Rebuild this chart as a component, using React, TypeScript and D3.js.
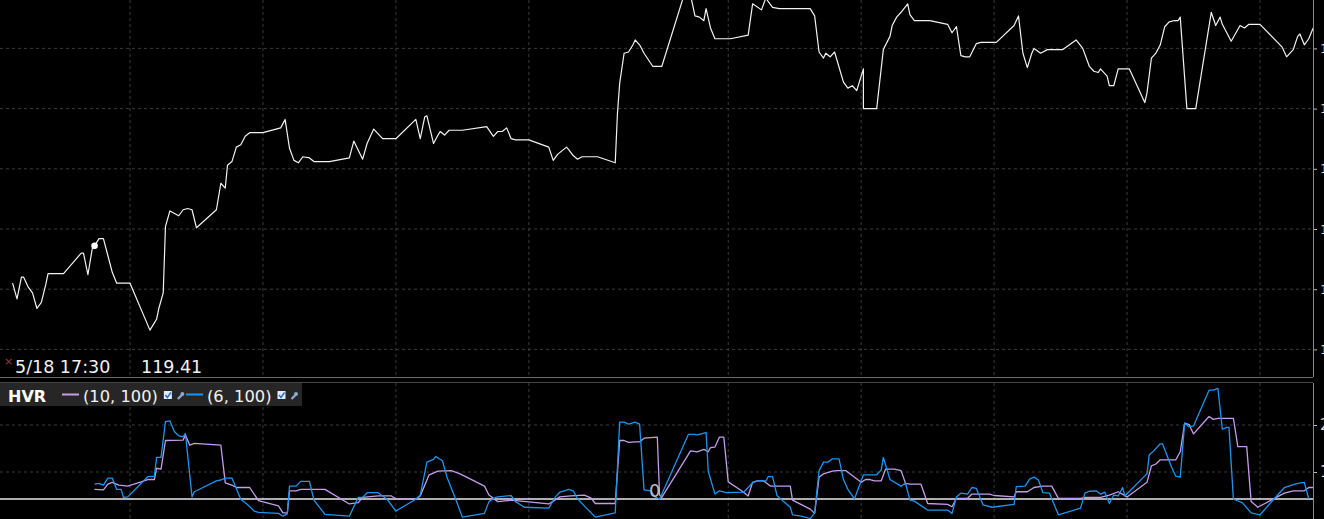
import { useEffect, useRef } from "react";
import * as d3 from "d3";

// Time axis in minutes since session start, one gridline per hour (with a 90 min gap)
const TIME_GRID = [60, 120, 180, 240, 330, 390, 450, 510, 570];

// Price (upper pane)
const PRICE_T = [
  7, 9, 11, 12, 14, 16, 18, 20, 22, 23,
  30, 38, 39, 41, 43, 44, 46, 48, 50, 52,
  54, 60, 69, 71, 72, 73, 75, 76, 78, 82,
  84, 86, 88, 90, 99, 101, 103, 104, 106, 108,
  110, 112, 114, 120, 128, 130, 132, 134, 136, 138,
  141, 143, 150, 159, 161, 165, 167, 170, 174, 180,
  189, 191, 193, 194, 197, 199, 200, 202, 204, 210,
  221, 224, 226, 228, 230, 232, 234, 240, 249, 251,
  253, 257, 258, 260, 262, 264, 271, 279, 280, 281,
  283, 285, 287, 288, 290, 292, 296, 300, 310, 313,
  315, 317, 319, 320, 322, 324, 331, 339, 341, 345,
  347, 348, 350, 353, 367, 369, 371, 373, 374, 376,
  378, 382, 384, 386, 388, 391, 391, 397, 400, 403,
  404, 406, 408, 411, 412, 414, 421, 429, 431, 433,
  435, 437, 439, 442, 444, 451, 459, 461, 463, 465,
  467, 468, 471, 474, 481, 487, 490, 493, 495, 497,
  498, 501, 502, 504, 506, 511, 518, 519, 521, 523,
  525, 527, 529, 531, 533, 534, 537, 541, 548, 550,
  552, 553, 557, 561, 563, 565, 570, 580, 582, 585,
  587, 588, 590, 592, 594,
];
const PRICE_V = [
  119.05, 118.92, 119.1, 119.1, 119.02, 118.97, 118.84, 118.89, 119.04, 119.13,
  119.13, 119.3, 119.3, 119.12, 119.34, 119.36, 119.42, 119.42, 119.28, 119.14,
  119.05, 119.05, 118.66, 118.72, 118.75, 118.84, 118.97, 119.52, 119.65, 119.61,
  119.66, 119.67, 119.66, 119.51, 119.66, 119.88, 119.84, 120.03, 120.06, 120.18,
  120.2, 120.27, 120.3, 120.3, 120.34, 120.41, 120.17, 120.07, 120.05, 120.1,
  120.09, 120.06, 120.06, 120.09, 120.23, 120.08, 120.21, 120.33, 120.25, 120.25,
  120.41, 120.25, 120.43, 120.44, 120.21, 120.28, 120.31, 120.28, 120.32, 120.32,
  120.35, 120.27, 120.31, 120.31, 120.34, 120.25, 120.24, 120.24, 120.18, 120.07,
  120.12, 120.18, 120.16, 120.11, 120.08, 120.1, 120.1, 120.05, 120.46, 120.71,
  120.96, 120.97, 121.03, 121.07, 121.03, 120.96, 120.85, 120.85, 121.44, 121.44,
  121.27, 121.26, 121.23, 121.33, 121.17, 121.08, 121.08, 121.11, 121.37, 121.32,
  121.42, 121.39, 121.34, 121.33, 121.33, 121.27, 120.97, 120.92, 120.96, 120.93,
  120.97, 120.72, 120.67, 120.69, 120.65, 120.83, 120.5, 120.5, 120.99, 121.1,
  121.19, 121.26, 121.3, 121.37, 121.28, 121.23, 121.23, 121.2, 121.13, 121.18,
  120.94, 120.93, 120.93, 121.04, 121.05, 121.05, 121.19, 121.27, 120.96, 120.84,
  120.96, 121.0, 120.96, 120.99, 120.99, 121.07, 121.0, 120.85, 120.81, 120.8,
  120.83, 120.77, 120.69, 120.69, 120.83, 120.83, 120.55, 120.63, 120.92, 120.96,
  121.03, 121.18, 121.22, 121.23, 121.23, 121.26, 120.5, 120.5, 121.3, 121.19,
  121.26, 121.2, 121.06, 121.19, 121.17, 121.2, 121.2, 121.01, 120.93, 120.99,
  121.1, 121.12, 121.03, 121.08, 121.17,
];
const PRICE_TICKS = [118.5, 119, 119.5, 120, 120.5, 121];

// HVR (10, 100)
const HVR10_T = [
  44, 48, 50, 52, 55, 59, 65, 68, 71, 72,
  74, 76, 84, 85, 87, 89, 101, 103, 106, 108,
  114, 118, 127, 129, 131, 132, 135, 137, 148, 159,
  163, 165, 172, 178, 180, 189, 191, 195, 199, 205,
  209, 220, 222, 226, 232, 249, 254, 259, 265, 268,
  270, 279, 281, 283, 285, 288, 290, 292, 298, 299,
  300, 313, 316, 319, 321, 322, 324, 326, 328, 330,
  336, 339, 341, 343, 346, 349, 358, 359, 367, 369,
  371, 373, 377, 379, 383, 390, 392, 394, 396, 399,
  401, 405, 408, 410, 412, 417, 420, 429, 431, 433,
  438, 440, 448, 450, 459, 460, 465, 468, 472, 476,
  479, 489, 491, 498, 502, 506, 510, 519, 521, 523,
  525, 532, 534, 536, 538, 540, 547, 549, 551, 558,
  560, 564, 566, 569, 581, 585, 590, 592, 594,
];
const HVR10_V = [
  6.3, 6.2, 7.4, 7.8, 7.2, 7.0, 7.9, 8.4, 8.4, 10.8,
  10.6, 16.7, 16.8, 17.9, 15.7, 16.1, 15.7, 7.7, 7.2, 6.7,
  6.7, 3.9, 2.8, 1.3, 1.3, 6.0, 6.0, 6.3, 6.3, 3.2,
  3.5, 4.6, 4.9, 4.9, 4.3, 4.2, 4.9, 9.4, 10.2, 10.3,
  9.6, 7.0, 5.1, 3.7, 4.0, 3.2, 4.7, 4.9, 5.1, 4.5,
  3.3, 3.3, 16.7, 16.7, 16.3, 16.4, 16.4, 17.2, 17.4, 5.1,
  4.6, 14.5, 14.3, 14.8, 14.3, 15.2, 15.3, 17.4, 17.4, 7.9,
  6.0, 4.9, 7.8, 8.1, 8.1, 7.0, 7.0, 4.0, 2.1, 1.2,
  8.9, 9.6, 10.2, 10.3, 10.3, 7.8, 8.4, 8.4, 8.1, 8.1,
  10.6, 10.6, 10.3, 7.6, 7.4, 7.4, 3.3, 3.1, 2.6, 4.4,
  4.4, 5.3, 5.3, 5.0, 4.7, 5.8, 5.8, 6.7, 7.0, 7.0,
  4.4, 4.4, 4.6, 4.6, 5.1, 5.8, 4.7, 7.8, 11.3, 11.7,
  12.6, 12.6, 14.3, 20.4, 20.1, 18.1, 21.8, 21.2, 21.4, 21.4,
  15.4, 15.4, 3.7, 2.5, 5.5, 6.0, 6.0, 6.7, 6.7,
];

// HVR (6, 100)
const HVR6_T = [
  44, 46, 48, 50, 52, 54, 56, 57, 59, 68,
  71, 72, 74, 76, 78, 80, 82, 84, 85, 88,
  89, 99, 101, 103, 106, 110, 113, 116, 118, 127,
  129, 131, 132, 135, 137, 141, 143, 148, 159, 163,
  165, 167, 172, 176, 180, 189, 191, 194, 197, 198,
  201, 203, 207, 210, 220, 222, 225, 226, 232, 234,
  238, 249, 252, 254, 256, 258, 260, 262, 265, 270,
  279, 281, 283, 285, 288, 290, 292, 295, 297, 299,
  312, 315, 316, 320, 321, 324, 326, 329, 337, 341,
  343, 347, 348, 350, 352, 355, 358, 359, 363, 367,
  369, 371, 373, 375, 377, 380, 382, 384, 387, 391,
  397, 399, 400, 403, 408, 410, 412, 414, 420, 429,
  431, 433, 435, 438, 440, 442, 445, 449, 459, 460,
  464, 466, 468, 470, 472, 475, 479, 489, 491, 493,
  496, 498, 500, 502, 504, 506, 508, 509, 517, 519,
  520, 522, 525, 526, 530, 532, 534, 536, 538, 540,
  547, 549, 551, 553, 555, 556, 558, 562, 566, 570,
  581, 583, 587, 590, 592,
];
const HVR6_V = [
  7.4, 7.6, 7.2, 8.7, 8.7, 6.3, 6.3, 4.6, 4.7, 9.0,
  9.1, 13.1, 13.1, 20.7, 20.9, 18.6, 17.7, 17.5, 18.2, 4.7,
  5.8, 8.1, 8.3, 8.7, 8.7, 4.2, 3.1, 1.7, 1.4, 1.2,
  0.6, 1.1, 7.0, 7.0, 8.0, 8.0, 4.0, 1.0, 0.6, 4.6,
  4.6, 5.6, 5.6, 4.2, 1.7, 4.2, 5.1, 12.1, 12.7, 13.3,
  12.4, 9.0, 4.2, 0.4, 1.2, 3.7, 4.6, 4.7, 5.0, 3.7,
  2.5, 2.3, 4.7, 5.7, 6.0, 6.3, 6.0, 4.3, 2.8, 0.4,
  1.3, 20.6, 20.6, 20.2, 20.6, 20.2, 6.2, 6.0, 4.7, 4.2,
  18.0, 18.0, 17.9, 18.4, 10.1, 5.3, 6.0, 5.6, 5.7, 7.7,
  8.1, 8.1, 9.0, 9.0, 5.0, 3.7, 2.5, 0.9, 0.6, 0.1,
  1.3, 10.3, 12.1, 12.1, 12.8, 12.8, 8.4, 6.3, 4.3, 9.4,
  9.4, 10.4, 13.1, 8.4, 7.0, 7.6, 4.0, 3.8, 1.9, 1.9,
  1.2, 4.7, 5.5, 5.3, 6.7, 6.5, 3.0, 2.5, 3.1, 6.9,
  7.0, 8.5, 8.9, 8.3, 5.6, 5.5, 0.9, 2.3, 5.5, 5.9,
  6.0, 5.3, 5.7, 3.3, 5.1, 4.9, 6.7, 4.9, 8.7, 9.6,
  13.6, 14.5, 16.0, 16.0, 11.1, 9.1, 8.9, 20.4, 19.6, 19.8,
  27.4, 27.4, 27.8, 19.1, 19.5, 19.5, 4.2, 3.5, 1.3, 0.9,
  6.7, 7.0, 7.6, 7.8, 4.3,
];
const HVR_TICKS = [10, 20];
const HVR_REF = 4.25;

// Cursor / legend
const CURSOR_T = 44;
const CURSOR_DATE = "5/18 17:30";
const CURSOR_PRICE = "119.41";
const ZERO_MARK_T = 297;
const HVR_SERIES = [
  { label: "(10, 100)", color: "#c59ce9", t: HVR10_T, v: HVR10_V },
  { label: "(6, 100)", color: "#1d95ee", t: HVR6_T, v: HVR6_V },
];

const W = 1324;
const H = 519;
const FONT = "'DejaVu Sans', Verdana, sans-serif";

export default function App() {
  const svgRef = useRef<SVGSVGElement>(null);

  useEffect(() => {
    if (!svgRef.current) return;
    document.body.style.margin = "0";
    document.body.style.background = "#000";

    const svg = d3.select(svgRef.current);
    svg.selectAll("*").remove();

    // Panes
    const right = 1313;
    const top1 = 0;
    const bottom1 = 377;
    const top2 = 383;
    const bottom2 = H;

    const x = d3.scaleLinear().domain([60, 570]).range([130, 1260]);
    const yPrice = d3.scaleLinear().domain([118.5, 121]).range([349.4, 48.4]);
    const yHvr = d3.scaleLinear().domain([10, 20]).range([472, 425]);

    svg.append("rect").attr("width", W).attr("height", H).attr("fill", "#000");

    const defs = svg.append("defs");
    defs.append("clipPath").attr("id", "clip-top")
      .append("rect").attr("x", 0).attr("y", top1).attr("width", right).attr("height", bottom1 - top1);
    defs.append("clipPath").attr("id", "clip-bottom")
      .append("rect").attr("x", 0).attr("y", top2).attr("width", right).attr("height", bottom2 - top2);

    const gridColor = "#3a3a3a";

    // Grille verticale
    [[top1, bottom1], [top2, bottom2]].forEach(([a, b]) => {
      svg.append("g")
        .selectAll("line")
        .data(TIME_GRID)
        .enter()
        .append("line")
        .attr("x1", (d) => x(d))
        .attr("x2", (d) => x(d))
        .attr("y1", a)
        .attr("y2", b)
        .style("stroke", gridColor)
        .style("stroke-dasharray", "3,3");
    });

    // Axe prix (droite)
    const priceAxis = svg.append("g")
      .attr("transform", `translate(${right},0)`)
      .call(d3.axisRight(yPrice).tickValues(PRICE_TICKS).tickSize(4).tickFormat(d3.format(".2f")));
    priceAxis.select(".domain").remove();
    priceAxis.selectAll("line").style("stroke", "#bbb");
    priceAxis.selectAll("text").style("fill", "#ddd").style("font-size", "13px").style("font-family", FONT);

    svg.append("g")
      .selectAll("line")
      .data(PRICE_TICKS)
      .enter()
      .append("line")
      .attr("x1", 0)
      .attr("x2", right)
      .attr("y1", (d) => yPrice(d))
      .attr("y2", (d) => yPrice(d))
      .style("stroke", gridColor)
      .style("stroke-dasharray", "3,3");

    // Axe HVR
    const hvrAxis = svg.append("g")
      .attr("transform", `translate(${right},0)`)
      .call(d3.axisRight(yHvr).tickValues(HVR_TICKS).tickSize(4).tickFormat(d3.format("d")));
    hvrAxis.select(".domain").remove();
    hvrAxis.selectAll("line").style("stroke", "#bbb");
    hvrAxis.selectAll("text").style("fill", "#ddd").style("font-size", "15px").style("font-family", FONT);

    svg.append("g")
      .selectAll("line")
      .data(HVR_TICKS)
      .enter()
      .append("line")
      .attr("x1", 0)
      .attr("x2", right)
      .attr("y1", (d) => yHvr(d))
      .attr("y2", (d) => yHvr(d))
      .style("stroke", gridColor)
      .style("stroke-dasharray", "3,3");

    // Bordures
    svg.append("line").attr("x1", 0).attr("x2", right).attr("y1", bottom1 + 0.5).attr("y2", bottom1 + 0.5)
      .style("stroke", "#6a6a6a");
    svg.append("line").attr("x1", 0).attr("x2", right).attr("y1", top2 - 0.5).attr("y2", top2 - 0.5)
      .style("stroke", "#444");
    svg.append("line").attr("x1", right + 0.5).attr("x2", right + 0.5).attr("y1", 0).attr("y2", bottom1)
      .style("stroke", "#888");
    svg.append("line").attr("x1", right + 0.5).attr("x2", right + 0.5).attr("y1", top2).attr("y2", bottom2)
      .style("stroke", "#888");

    // Ligne de prix
    const pricePts: [number, number][] = PRICE_T.map((t, i) => [t, PRICE_V[i]]);
    const line = d3.line<[number, number]>();
    svg.append("path")
      .attr("clip-path", "url(#clip-top)")
      .attr("d", line.x((d) => x(d[0])).y((d) => yPrice(d[1]))(pricePts))
      .attr("fill", "none")
      .attr("stroke", "#f2f2f2")
      .attr("stroke-width", 1.2)
      .attr("stroke-linejoin", "round");

    const ci = PRICE_T.indexOf(CURSOR_T);
    svg.append("circle")
      .attr("cx", x(CURSOR_T))
      .attr("cy", yPrice(PRICE_V[ci]))
      .attr("r", 3.3)
      .attr("fill", "#fff");

    // Ligne de référence HVR
    svg.append("line")
      .attr("x1", 0)
      .attr("x2", right)
      .attr("y1", yHvr(HVR_REF))
      .attr("y2", yHvr(HVR_REF))
      .style("stroke", "#e8e8e8")
      .style("stroke-width", 1.5);

    HVR_SERIES.forEach((s) => {
      const pts: [number, number][] = s.t.map((t, i) => [t, s.v[i]]);
      const l = d3.line<[number, number]>().x((d) => x(d[0])).y((d) => yHvr(d[1]));
      svg.append("path")
        .attr("clip-path", "url(#clip-bottom)")
        .attr("d", l(pts))
        .attr("fill", "none")
        .attr("stroke", s.color)
        .attr("stroke-width", 1.3)
        .attr("stroke-linejoin", "round");
    });

    svg.append("text")
      .attr("x", x(ZERO_MARK_T) - 6)
      .attr("y", 497)
      .style("fill", "#bdbdbd")
      .style("font-size", "18px")
      .style("font-family", FONT)
      .text("0");

    // Curseur
    svg.append("text")
      .attr("x", 4)
      .attr("y", 365)
      .style("fill", "#9a3b3b")
      .style("font-size", "11px")
      .style("font-family", FONT)
      .text("×");
    svg.append("text")
      .attr("x", 15)
      .attr("y", 373)
      .style("fill", "#f2f2f2")
      .style("font-size", "17.5px")
      .style("font-family", FONT)
      .text(CURSOR_DATE);
    svg.append("text")
      .attr("x", 141)
      .attr("y", 373)
      .style("fill", "#f2f2f2")
      .style("font-size", "17.5px")
      .style("font-family", FONT)
      .text(CURSOR_PRICE);

    // Légende
    svg.append("rect")
      .attr("x", 0)
      .attr("y", top2)
      .attr("width", 302)
      .attr("height", 23)
      .attr("fill", "#262626");
    svg.append("text")
      .attr("x", 8)
      .attr("y", 402)
      .style("fill", "#fff")
      .style("font-size", "16px")
      .style("font-weight", "bold")
      .style("font-family", FONT)
      .text("HVR");

    const legendX = [62, 186];
    HVR_SERIES.forEach((s, i) => {
      const lx = legendX[i];
      svg.append("line")
        .attr("x1", lx)
        .attr("x2", lx + 17)
        .attr("y1", 394.5)
        .attr("y2", 394.5)
        .style("stroke", s.color)
        .style("stroke-width", 2);
      const txt = svg.append("text")
        .attr("x", lx + 21)
        .attr("y", 402)
        .style("fill", "#f2f2f2")
        .style("font-size", "16.3px")
        .style("font-family", FONT)
        .text(s.label);
      const tw = (txt.node() as SVGTextElement).getComputedTextLength();
      const cx = lx + 21 + tw + 6;
      svg.append("rect")
        .attr("x", cx)
        .attr("y", 391)
        .attr("width", 8)
        .attr("height", 8)
        .attr("fill", "#e4ecf7");
      svg.append("path")
        .attr("d", `M${cx + 1.5},${395} l2,2.5 l3.5,-5`)
        .attr("fill", "none")
        .attr("stroke", "#2a6fd6")
        .attr("stroke-width", 1.5);
      svg.append("path")
        .attr("d", `M${cx + 14},${399} l4,-4`)
        .attr("stroke", "#8aa8d0")
        .attr("stroke-width", 2.4);
      svg.append("circle")
        .attr("cx", cx + 18.5)
        .attr("cy", 394)
        .attr("r", 2)
        .attr("fill", "#8aa8d0");
    });
  }, []);

  return (
    <div style={{ position: "absolute", left: 0, top: 0, width: W, height: H, background: "#000" }}>
      <svg ref={svgRef} width={W} height={H} style={{ display: "block" }} />
    </div>
  );
}
